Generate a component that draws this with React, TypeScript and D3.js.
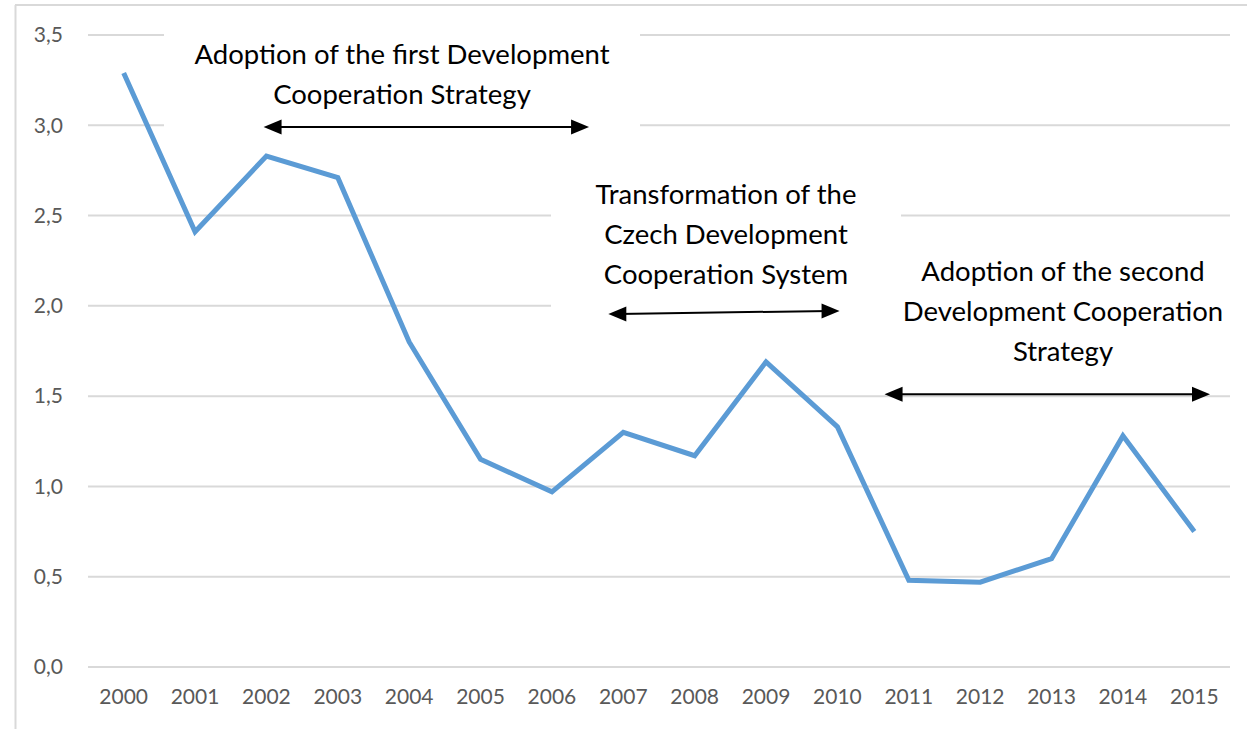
import React from "react";
import * as d3 from "d3";

const years = [2000, 2001, 2002, 2003, 2004, 2005, 2006, 2007, 2008, 2009, 2010, 2011, 2012, 2013, 2014, 2015];
const values = [3.29, 2.41, 2.83, 2.71, 1.80, 1.15, 0.97, 1.30, 1.17, 1.69, 1.33, 0.48, 0.47, 0.60, 1.28, 0.75];
const yTicks = [0, 0.5, 1.0, 1.5, 2.0, 2.5, 3.0, 3.5];

const annotationTexts = [
  ["Adoption of the first Development", "Cooperation Strategy"],
  ["Transformation of the", "Czech Development", "Cooperation System"],
  ["Adoption of the second", "Development Cooperation", "Strategy"],
];

const W = 1247;
const H = 729;
const FONT = "Lato, 'Open Sans', sans-serif";

export default function App() {
  const x = d3.scaleBand<number>().domain(years).range([88, 1230]).padding(0);
  const cx = (yr: number) => (x(yr) as number) + x.bandwidth() / 2;
  const fx = (t: number) => cx(2000) + (t - 2000) * x.step();
  const y = d3.scaleLinear().domain([0, 3.5]).range([667, 35]);

  const line = d3
    .line<number>()
    .x((_, i) => cx(years[i]))
    .y((d) => y(d));

  const boxes = [
    { x0: 164, x1: 640, y0: 22, y1: 138, tx: 402, ty: 64, arrow: { a: 1.96, b: 6.52, v1: 2.99, v2: 2.99 } },
    { x0: 551, x1: 901, y0: 168, y1: 328, tx: 726, ty: 204, arrow: { a: 6.79, b: 10.03, v1: 1.955, v2: 1.972 } },
    { x0: 901, x1: 1232, y0: 248, y1: 380, tx: 1063, ty: 281, arrow: { a: 10.66, b: 15.22, v1: 1.51, v2: 1.51 } },
  ];

  const arrowHead = (xTip: number, yTip: number, dir: number) => {
    const L = 18;
    const h = 7.5;
    return `M${xTip},${yTip} L${xTip - dir * L},${yTip - h} L${xTip - dir * L},${yTip + h} Z`;
  };

  return (
    <svg width={W} height={H} style={{ position: "absolute", left: 0, top: 0, background: "#fff" }}>
      <rect x={0} y={0} width={W} height={H} fill="#fff" />
      <line x1={15.5} y1={5} x2={15.5} y2={H} stroke="#d9d9d9" strokeWidth={2} />
      <line x1={15} y1={5} x2={W} y2={5} stroke="#d9d9d9" strokeWidth={2} />

      {yTicks.map((t) => (
        <line key={t} x1={88} x2={1230} y1={y(t)} y2={y(t)} stroke="#d9d9d9" strokeWidth={2} />
      ))}

      {yTicks.map((t) => (
        <text
          key={"yl" + t}
          x={63}
          y={y(t)}
          dy="0.35em"
          textAnchor="end"
          fontFamily={FONT}
          fontSize={21}
          fill="#595959"
        >
          {d3.format(".1f")(t).replace(".", ",")}
        </text>
      ))}

      {years.map((yr) => (
        <text
          key={"xl" + yr}
          x={cx(yr)}
          y={704}
          textAnchor="middle"
          fontFamily={FONT}
          fontSize={21}
          fill="#595959"
        >
          {yr}
        </text>
      ))}

      {boxes.map((b, i) => (
        <rect key={"bx" + i} x={b.x0} y={b.y0} width={b.x1 - b.x0} height={b.y1 - b.y0} fill="#fff" />
      ))}

      <path d={line(values) || ""} fill="none" stroke="#5b9bd5" strokeWidth={5} strokeLinejoin="miter" />

      {boxes.map((b, i) => {
        const xa = fx(2000 + b.arrow.a);
        const xb = fx(2000 + b.arrow.b);
        const ya = y(b.arrow.v1);
        const yb = y(b.arrow.v2);
        return (
          <g key={"an" + i}>
            {annotationTexts[i].map((s, j) => (
              <text
                key={j}
                x={b.tx}
                y={b.ty + j * 40}
                textAnchor="middle"
                fontFamily={FONT}
                fontSize={27.5}
                fill="#000"
              >
                {s}
              </text>
            ))}
            <line x1={xa + 10} y1={ya} x2={xb - 10} y2={yb} stroke="#000" strokeWidth={2} />
            <path d={arrowHead(xa, ya, -1)} fill="#000" />
            <path d={arrowHead(xb, yb, 1)} fill="#000" />
          </g>
        );
      })}
    </svg>
  );
}
